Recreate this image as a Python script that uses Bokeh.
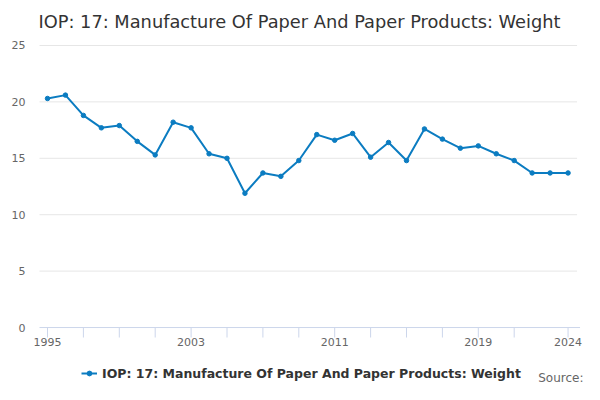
from bokeh.plotting import figure
from bokeh.models import FixedTicker, Legend, LegendItem, Label, Range1d
from bokeh.core.properties import value
from bokeh.embed import file_html
from bokeh.resources import INLINE

years = list(range(1995, 2025))
values = [20.3, 20.6, 18.8, 17.7, 17.9, 16.5, 15.3, 18.2, 17.7, 15.4,
          15.0, 11.9, 13.7, 13.4, 14.8, 17.1, 16.6, 17.2, 15.1, 16.4,
          14.8, 17.6, 16.7, 15.9, 16.1, 15.4, 14.8, 13.7, 13.7, 13.7]
series_name = "IOP: 17: Manufacture Of Paper And Paper Products: Weight"
title_text = "IOP: 17: Manufacture Of Paper And Paper Products: Weight"
source_text = "Source:"
x_labels = [1995, 2003, 2011, 2019, 2024]
x_ticks = [1995, 1997, 1999, 2001, 2003, 2005, 2007, 2009, 2011, 2013,
           2015, 2017, 2019, 2021, 2024]
y_ticks = [0, 5, 10, 15, 20, 25]

FONT = "DejaVu Sans"
COLOR = "#0b7cc1"
AXIS_COLOR = "#ccd6eb"
GRID_COLOR = "#e6e6e6"

PX = 11.29          # pixels per y unit
PPY = 17.95         # pixels per year
TOP_PX = 45         # room above the 25 line (title)
BOTTOM_PX = 57      # room below the zero line for axis labels / legend
FRAME_L, FRAME_R = 30, 583
X0_PX = 47          # pixel position of first year

x_start = years[0] - (X0_PX - FRAME_L) / PPY
x_end = x_start + (FRAME_R - FRAME_L) / PPY
grid_left = years[0] - 8 / PPY
grid_right = years[-1] + 9 / PPY
axis_right = years[-1] + 12 / PPY
y_top = y_ticks[-1] + TOP_PX / PX

p = figure(width=584, height=384, output_backend="svg", toolbar_location=None,
           x_axis_location=None, title=None,
           x_range=Range1d(x_start, x_end), y_range=Range1d(-BOTTOM_PX / PX, y_top))
p.min_border_left = FRAME_L
p.min_border_right = 584 - FRAME_R
p.min_border_top = 0
p.min_border_bottom = 0
p.outline_line_color = None
p.background_fill_color = "white"
p.border_fill_color = "white"
for g in p.grid:
    g.visible = False

# y axis
ya = p.yaxis[0]
ya.ticker = FixedTicker(ticks=y_ticks)
ya.axis_line_color = None
ya.major_tick_line_color = None
ya.minor_tick_line_color = None
ya.major_tick_out = 0
ya.major_tick_in = 0
ya.minor_tick_out = 0
ya.major_label_standoff = 5
ya.major_label_text_font = FONT
ya.major_label_text_font_size = "11px"
ya.major_label_text_color = "#666666"

# horizontal grid lines
grid_y = [t for t in y_ticks if t != 0]
p.segment(x0=[grid_left] * len(grid_y), y0=grid_y, x1=[grid_right] * len(grid_y), y1=grid_y,
          line_color=GRID_COLOR, line_width=1)

# x axis drawn at zero
p.segment(x0=[grid_left], y0=[0], x1=[axis_right], y1=[0], line_color=AXIS_COLOR, line_width=1)
p.segment(x0=x_ticks, y0=[0] * len(x_ticks), x1=x_ticks, y1=[-10 / PX] * len(x_ticks),
          line_color=AXIS_COLOR, line_width=1)
p.text(x=x_labels, y=[-14.5 / PX] * len(x_labels), text=[str(v) for v in x_labels],
       text_align="center", text_baseline="middle", text_font=value(FONT),
       text_font_size="11px", text_color="#666666")

r_line = p.line(years, values, line_color=COLOR, line_width=2)
r_pts = p.scatter(years, values, size=4.5, fill_color=COLOR, line_color=COLOR)

# title
ttl = Label(x=x_start + 8 / PPY, y=y_top - 21 / PX, text=title_text,
            text_align="left", text_baseline="alphabetic", text_font=FONT,
            text_font_size="17.8px", text_color="#333333")
p.add_layout(ttl)

legend = Legend(items=[LegendItem(label=series_name, renderers=[r_line, r_pts])],
                orientation="horizontal", location=(51, 1),
                label_text_font=FONT, label_text_font_size="12.5px",
                label_text_font_style="bold", label_text_color="#333333",
                glyph_width=16, glyph_height=12, label_height=20, label_standoff=5,
                border_line_color=None, background_fill_alpha=0,
                padding=0, margin=0, spacing=0)
p.add_layout(legend, "center")

src = Label(x=x_end, y=-50 / PX, text=source_text,
            text_align="right", text_baseline="middle", text_font=FONT,
            text_font_size="12px", text_color="#666666")
p.add_layout(src)

open("out.html", "w").write(file_html(p, INLINE))
